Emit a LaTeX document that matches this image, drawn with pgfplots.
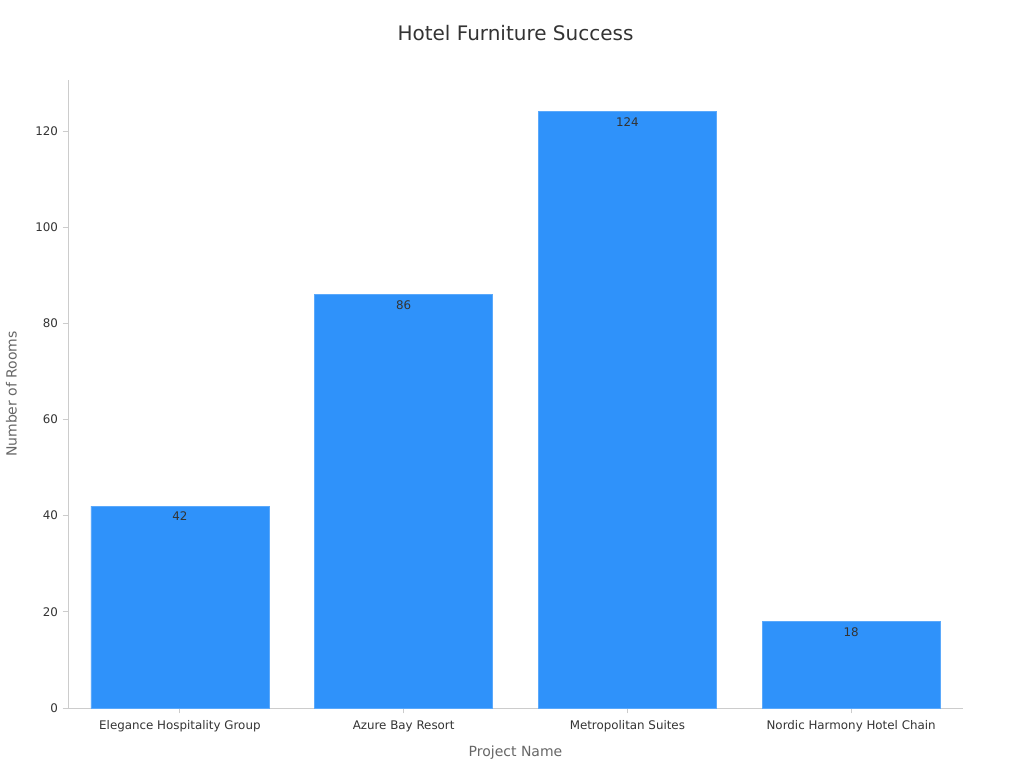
\documentclass[border=0pt]{standalone}
\usepackage{pgfplots}
\pgfplotsset{compat=1.18}
\usepackage{fontspec}
\setmainfont{DejaVu Sans}
\definecolor{barblue}{HTML}{2F92FA}
\definecolor{baredge}{HTML}{5BA9FB}
\definecolor{spine}{HTML}{CCCCCC}
\definecolor{labgray}{HTML}{666666}
\definecolor{txt}{HTML}{333333}
\begin{document}
\begin{tikzpicture}
\useasboundingbox (0pt,0pt) rectangle (768pt,576pt);
\begin{axis}[
    at={(51pt,45pt)}, anchor=south west,
    scale only axis,
    width=671.25pt, height=471pt,
    ybar, bar width=133.5pt, bar shift=0pt,
    xmin=-0.5, xmax=3.5,
    ymin=0, ymax=130.6,
    xtick=data,
    xticklabels={Elegance Hospitality Group, Azure Bay Resort, Metropolitan Suites, Nordic Harmony Hotel Chain},
    ytick={0,20,40,60,80,100,120},
    axis x line*=bottom, axis y line*=left,
    axis line style={spine, line width=0.6pt, -},
    tick style={spine, line width=0.6pt},
    major tick length=4pt,
    tick align=outside,
    ticklabel style={font=\fontsize{8.9}{10}\selectfont, text=txt},
    xticklabel style={text height=1.6ex, text depth=0.3ex},
    /pgf/number format/assume math mode=true,
    xlabel={Project Name}, ylabel={Number of Rooms},
    label style={font=\fontsize{10.5}{12}\selectfont, text=labgray},
    xlabel style={yshift=-3.5pt},
    ylabel style={yshift=7pt},
    title={Hotel Furniture Success},
    title style={font=\fontsize{15}{17}\selectfont, text=txt, at={(0.5,1)}, yshift=20pt},
    nodes near coords,
    nodes near coords style={font=\fontsize{8.9}{10}\selectfont, text=txt, anchor=north, yshift=-1pt},
    every node near coord/.append style={/pgf/number format/assume math mode=true},
]
\addplot[fill=barblue, draw=baredge, line width=0.5pt] coordinates {
    (0,42) (1,86) (2,124) (3,18)
};
\end{axis}
\end{tikzpicture}
\end{document}
